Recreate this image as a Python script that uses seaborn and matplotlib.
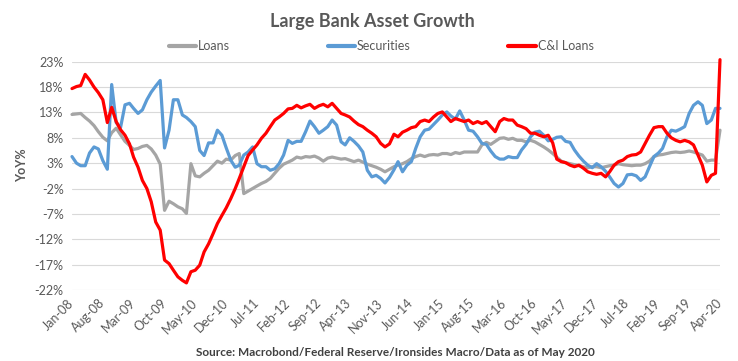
import matplotlib
matplotlib.use("Agg")
import matplotlib.pyplot as plt
from matplotlib.lines import Line2D
from matplotlib.ticker import FixedLocator, FuncFormatter
import pandas as pd
import seaborn as sns

# ---------------- data (monthly, YoY %) ----------------
start_month = "2008-01-01"
n_months = 148
series_names = ["Loans", "Securities", "C&I Loans"]

loans = [12.6, 12.7, 12.8, 12.0, 11.3, 10.4, 9.2, 8.1, 7.4, 9.0,
         9.9, 8.6, 7.3, 6.5, 5.7, 5.9, 6.3, 6.5, 5.8, 4.6,
         2.8, -6.3, -4.5, -5.0, -5.6, -6.0, -6.9, 2.9, 0.5, 0.3,
         1.0, 1.6, 2.5, 3.4, 3.0, 3.8, 3.6, 4.5, 4.9, -3.0,
         -2.5, -2.0, -1.5, -1.0, -0.6, 0.0, 1.0, 2.0, 2.8, 3.2,
         3.6, 4.2, 4.0, 4.3, 4.2, 4.4, 4.0, 3.4, 4.0, 4.2,
         4.0, 3.8, 3.9, 3.6, 3.3, 3.6, 3.2, 2.8, 2.5, 2.2,
         1.8, 1.3, 1.8, 2.3, 2.6, 2.9, 3.3, 3.9, 4.3, 4.6,
         4.3, 4.6, 4.7, 4.6, 4.9, 4.9, 4.7, 5.1, 4.9, 5.2,
         5.2, 5.2, 5.2, 6.6, 7.1, 6.7, 7.3, 7.9, 8.0, 7.7,
         7.9, 7.5, 7.5, 7.2, 7.5, 7.2, 6.7, 6.2, 5.6, 4.9,
         4.2, 3.4, 3.1, 2.9, 2.7, 2.5, 2.3, 2.1, 2.3, 2.3,
         2.1, 2.3, 2.5, 2.6, 2.9, 2.7, 2.6, 2.5, 2.6, 2.6,
         2.9, 3.4, 4.3, 4.6, 4.7, 4.9, 5.1, 5.2, 5.1, 5.2,
         5.4, 5.2, 4.9, 4.6, 3.4, 3.6, 3.6, 9.5]

securities = [4.3, 3.0, 2.5, 2.5, 5.0, 6.2, 5.8, 3.5, 1.8, 18.5,
              11.0, 10.0, 14.5, 14.8, 13.8, 12.8, 13.5, 15.5, 17.0, 18.2,
              19.3, 6.0, 9.5, 15.5, 15.5, 12.5, 12.0, 11.2, 10.2, 5.5,
              4.5, 7.0, 7.0, 9.5, 8.5, 6.0, 3.6, 2.2, 2.6, 4.6,
              5.2, 6.2, 2.9, 2.3, 2.3, 1.6, 1.9, 2.9, 4.6, 7.5,
              6.9, 7.3, 7.3, 9.2, 11.3, 10.2, 8.9, 9.5, 10.2, 11.5,
              10.5, 7.2, 6.6, 8.0, 7.3, 6.4, 5.2, 1.6, 0.3, 0.6,
              0.0, -0.9, 0.2, 1.7, 3.3, 1.3, 2.6, 3.3, 5.9, 8.2,
              9.5, 9.7, 10.6, 11.5, 12.5, 13.1, 12.3, 11.7, 13.3, 11.5,
              9.5, 9.3, 8.2, 6.9, 6.7, 5.4, 4.3, 3.8, 3.8, 4.3,
              4.1, 4.1, 5.6, 6.7, 8.2, 9.1, 9.3, 8.5, 7.4, 7.7,
              8.1, 8.2, 7.3, 7.1, 5.6, 4.4, 3.4, 2.6, 2.1, 2.9,
              2.3, 1.4, 0.3, -1.0, -1.7, -1.0, 0.7, 0.8, 0.5, -0.4,
              0.3, 2.3, 4.3, 5.0, 5.9, 8.2, 9.5, 9.3, 9.7, 10.2,
              12.8, 14.4, 15.1, 14.4, 10.8, 11.5, 13.8, 13.8]

ci_loans = [17.7, 18.1, 18.3, 20.5, 19.4, 18.0, 16.9, 15.5, 11.0, 14.0,
            11.2, 9.6, 8.5, 6.8, 4.2, 2.2, -0.4, -2.0, -4.6, -8.6,
            -10.2, -16.1, -16.8, -18.1, -19.4, -20.1, -20.6, -18.4, -18.1, -17.1,
            -14.5, -12.9, -10.9, -8.9, -7.3, -5.8, -4.0, -2.0, 0.0, 2.3,
            4.5, 5.6, 6.6, 7.9, 8.9, 10.2, 11.5, 12.1, 12.8, 13.7,
            13.8, 14.4, 13.9, 14.3, 14.6, 13.8, 14.3, 14.6, 14.1, 14.8,
            13.8, 12.8, 12.5, 12.1, 11.3, 10.6, 10.2, 9.5, 8.9, 8.2,
            6.9, 6.2, 6.8, 8.7, 8.2, 9.1, 9.5, 10.0, 10.2, 11.2,
            11.5, 11.2, 12.1, 12.8, 13.1, 12.1, 11.2, 11.8, 11.5, 11.2,
            11.5, 10.8, 11.2, 10.8, 11.2, 10.2, 9.2, 11.2, 11.8, 11.5,
            11.5, 10.5, 10.2, 9.8, 8.9, 8.9, 8.5, 8.2, 8.5, 7.0,
            3.8, 3.3, 3.1, 2.6, 2.3, 2.6, 2.0, 1.3, 1.0, 0.8,
            1.0, 0.3, 1.3, 2.6, 3.3, 3.6, 4.3, 4.6, 4.7, 5.2,
            6.9, 8.5, 10.0, 10.2, 10.2, 8.9, 8.0, 7.5, 7.2, 7.5,
            7.2, 6.6, 4.6, 2.6, -0.7, 0.6, 1.0, 23.4]

y_ticks = [-22, -17, -12, -7, -2, 3, 8, 13, 18, 23]
x_tick_step = 7

title_text = "Large Bank Asset Growth"
y_label = "YoY%"
source_text = "Source: Macrobond/Federal Reserve/Ironsides Macro/Data as of May 2020"

# ---------------- build frame ----------------
dates = pd.date_range(start_month, periods=n_months, freq="MS")
df = pd.concat([
    pd.DataFrame({"date": dates, "value": vals, "series": name})
    for name, vals in zip(series_names, [loans, securities, ci_loans])
], ignore_index=True)

colors = {"Loans": "#A5A5A5", "Securities": "#5B9BD5", "C&I Loans": "#FF0000"}
text_col = "#595959"

sns.set_style("white")
plt.rcParams["font.family"] = ["Lato", "DejaVu Sans"]

fig = plt.figure(figsize=(7.38, 3.61), dpi=100)
ax = fig.add_axes([72 / 738, 1 - 290 / 361, (720 - 72) / 738, (290 - 61.7) / 361])

sns.lineplot(data=df, x="date", y="value", hue="series", hue_order=series_names,
             palette=colors, linewidth=2.3, estimator=None, legend=False, ax=ax)
for ln in ax.lines:
    ln.set_clip_on(False)
    ln.set_solid_joinstyle("round")

ax.set_xlim(dates[0], dates[-1])
ax.set_ylim(y_ticks[0], y_ticks[-1])
ax.yaxis.set_major_locator(FixedLocator(y_ticks))
ax.yaxis.set_major_formatter(FuncFormatter(lambda v, p: f"{int(round(v))}%"))
ax.set_xticks(dates[::x_tick_step])
ax.set_xticklabels([d.strftime("%b-%y") for d in dates[::x_tick_step]])

ax.grid(axis="y", color="#D9D9D9", linewidth=0.8)
ax.grid(axis="x", visible=False)
ax.set_axisbelow(True)
for s in ax.spines.values():
    s.set_visible(False)

ax.tick_params(axis="y", length=0, pad=6, labelsize=9, labelcolor=text_col)
ax.tick_params(axis="x", length=0, pad=8, labelsize=9, labelcolor=text_col)
for lab in ax.get_xticklabels():
    lab.set_rotation(45)
    lab.set_ha("right")
    lab.set_va("center")
    lab.set_rotation_mode("anchor")

ax.set_xlabel("")
ax.set_ylabel("")
fig.text(22 / 738, 1 - 165 / 361, y_label, rotation=90, ha="center", va="center",
         fontsize=9, fontweight="bold", color=text_col)

fig.text(372 / 738, 1 - 22 / 361, title_text, ha="center", va="center",
         fontsize=13, fontweight="bold", color=text_col)

handles = [Line2D([0], [0], color=colors[n], lw=3) for n in series_names]
fig.legend(handles, series_names, loc="center", bbox_to_anchor=(381 / 738, 1 - 46 / 361),
           ncol=3, frameon=False, fontsize=9, labelcolor=text_col,
           handlelength=2.2, handletextpad=0.15, columnspacing=7.8)

fig.text(395 / 738, 1 - 352 / 361, source_text, ha="center", va="center",
         fontsize=8.5, fontweight="bold", color="#404040")

fig.savefig("out.png", dpi=100)
